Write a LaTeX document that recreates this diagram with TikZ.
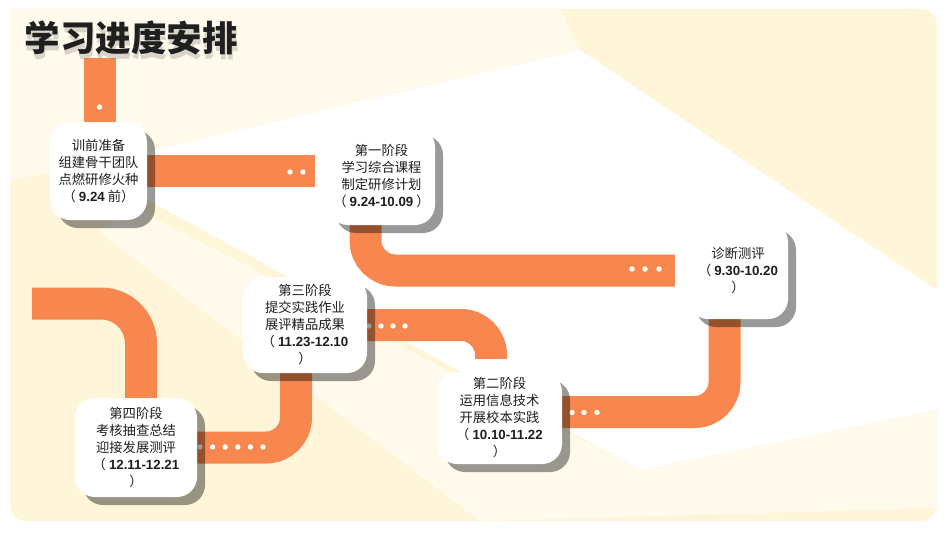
\documentclass[tikz,border=0pt]{standalone}
\usepackage{fontspec}
\setmainfont{Noto Sans CJK SC}
\newfontfamily\numfont{Liberation Sans}
\usepackage{tikz}
\usetikzlibrary{shadows}

\definecolor{pipeorange}{RGB}{247,135,78}
\definecolor{bgcream}{RGB}{255,245,216}
\definecolor{bgpale}{RGB}{255,250,236}
\definecolor{textgray}{RGB}{30,30,30}

\newcommand{\period}[1]{{\numfont\bfseries #1}}

\pgfdeclarelayer{back}
\pgfdeclarelayer{pipes}
\pgfsetlayers{back,pipes,main}

\begin{document}
\begin{tikzpicture}[
  x=1pt, y=-1pt,
  stage/.style={fill=white, rounded corners=20pt, align=center, inner sep=0pt,
    text=textgray, font=\fontsize{13.3}{17}\selectfont,
    drop shadow={shadow xshift=8pt, shadow yshift=-8pt, fill=black, opacity=.4}},
  pipe/.style={draw=pipeorange, line width=32pt, rounded corners=30pt},
  headline/.style={font=\fontsize{35.5}{40}\selectfont\bfseries}
]
\useasboundingbox (0,0) rectangle (950,535);

% stages
\node[stage, minimum width=97pt, minimum height=98pt] (prep) at (98.5,171)
  {训前准备\\组建骨干团队\\点燃研修火种\\（ \period{9.24} 前）};
\node[stage, minimum width=107pt, minimum height=98pt] (phase1) at (381.5,176)
  {第一阶段\\学习综合课程\\制定研修计划\\（ \period{9.24-10.09} ）};
\node[stage, minimum width=100pt, minimum height=97pt] (diag) at (738,270.5)
  {诊断测评\\（ \period{9.30-10.20}\\）};
\node[stage, minimum width=125pt, minimum height=92pt] (phase2) at (499.5,418)
  {第二阶段\\运用信息技术\\开展校本实践\\（ \period{10.10-11.22}\\）};
\node[stage, minimum width=124pt, minimum height=96pt] (phase3) at (305,325)
  {第三阶段\\提交实践作业\\展评精品成果\\（ \period{11.23-12.10}\\）};
\node[stage, minimum width=122pt, minimum height=99pt] (phase4) at (136,447.5)
  {第四阶段\\考核抽查总结\\迎接发展测评\\（ \period{12.11-12.21}\\）};

% title
\node[headline, text=black, opacity=.15] (titleshade) at (132,42.5) {学习进度安排};
\node[headline, text=black!88] (title) at (131,37.5) {学习进度安排};

% background
\begin{pgfonlayer}{back}
\fill[bgcream, rounded corners=16pt] (10,9) rectangle (937,521);
\fill[bgpale] (10,9) -- (560,9) -- (580,50) -- (86,166) -- (10,180) -- cycle;
\fill[white] (86,166) -- (580,50) -- (937,290) -- (937,410) -- (640,470) -- cycle;
\fill[bgpale] (120,200) -- (640,470) -- (937,410) -- (937,508) -- (480,521) -- (100,233) -- cycle;
\end{pgfonlayer}

% track
\begin{pgfonlayer}{pipes}
\coordinate (start) at (99.5,58);
\coordinate (entry) at (32,303.5);
\draw[pipe] (start) -- (prep.north -| start);
\draw[pipe] (prep.east) -- ([xshift=-13pt]phase1.west |- prep.east);
\draw[pipe] ([xshift=-16pt]phase1.south) |- ([xshift=-13pt]diag.west);
\draw[pipe] ([xshift=-13.5pt]diag.south) |- ([yshift=6pt]phase2.east);
\draw[pipe] (phase3.east) -| ([xshift=-8.5pt,yshift=13pt]phase2.north);
\draw[pipe] ([xshift=-9pt]phase3.south) |- (phase4.east);
\draw[pipe, rounded corners=40pt] (entry) -| ([xshift=5pt]phase4.north);
\foreach \x/\y in {99.5/107, 290/172, 303/172, 632/269, 645/269, 659/269,
    369/326, 381/326, 393/326, 405/326, 572/412.5, 584/412.5, 597/412.5,
    200/447, 212.6/447, 225.2/447, 237.8/447, 250.4/447, 263/447}
  \fill[white] (\x,\y) circle (2.7pt);
\end{pgfonlayer}
\end{tikzpicture}
\end{document}
